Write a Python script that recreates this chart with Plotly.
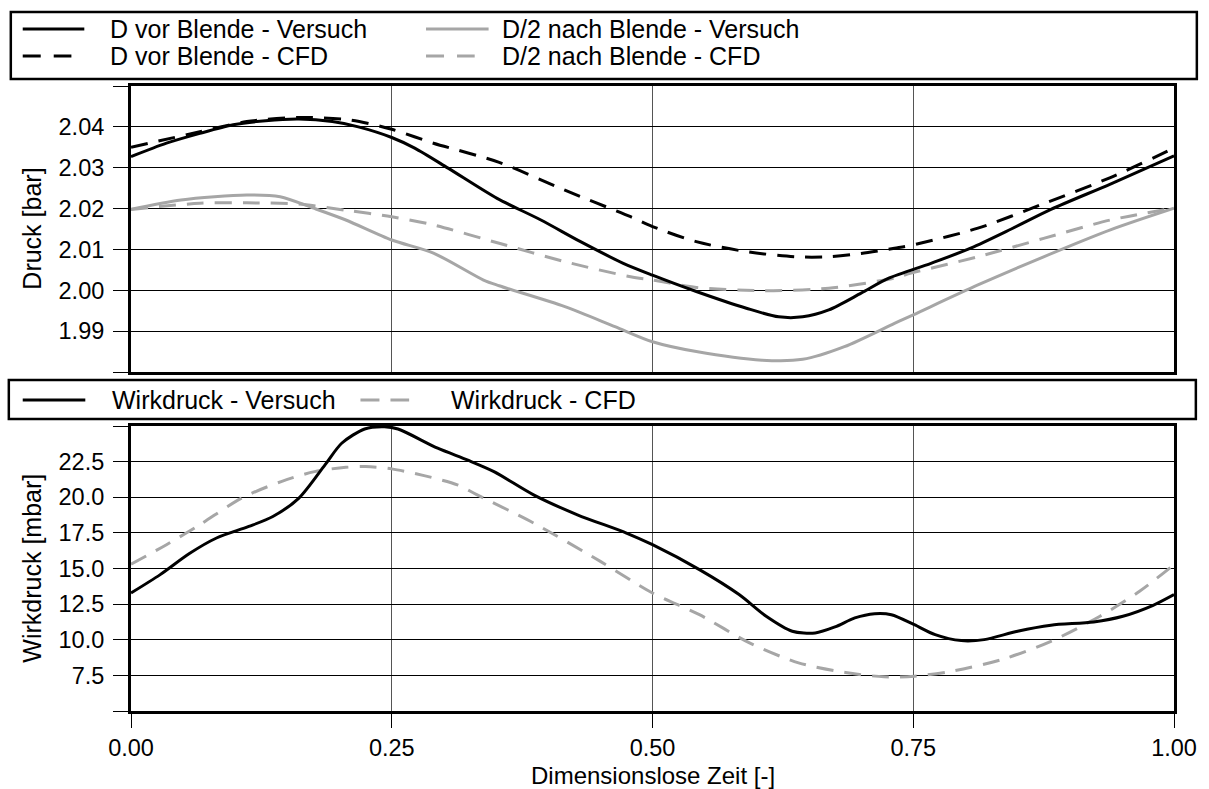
import plotly.graph_objects as go

# ---- data: pressure before / after the orifice (bar) ----
d_vor_versuch_x = [0, 0.034, 0.066, 0.098, 0.129, 0.161, 0.193, 0.218, 0.25, 0.272, 0.304, 0.351,
                   0.393, 0.431, 0.472, 0.50, 0.542, 0.59, 0.621, 0.644, 0.669, 0.70, 0.726, 0.767,
                   0.805, 0.844, 0.882, 0.939, 1.0]
d_vor_versuch_y = [2.0327, 2.0360, 2.0384, 2.0405, 2.0415, 2.0419, 2.0413, 2.0400, 2.0374, 2.0348,
                   2.0299, 2.0225, 2.0172, 2.0119, 2.0066, 2.0037, 1.9997, 1.9956, 1.9935, 1.9935,
                   1.9952, 1.9993, 2.0029, 2.0066, 2.0103, 2.0150, 2.0198, 2.0260, 2.0329]

d_vor_cfd_x = [0, 0.066, 0.111, 0.161, 0.21, 0.25, 0.29, 0.353, 0.416, 0.479, 0.50, 0.542, 0.589,
               0.637, 0.669, 0.70, 0.732, 0.748, 0.812, 0.875, 0.939, 1.0]
d_vor_cfd_y = [2.0350, 2.0388, 2.0413, 2.0423, 2.0417, 2.0394, 2.0360, 2.0313, 2.0245, 2.0180,
               2.0156, 2.0119, 2.0095, 2.0082, 2.0082, 2.0090, 2.0103, 2.0110, 2.0152, 2.0212,
               2.0276, 2.0348]

d2_nach_versuch_x = [0, 0.048, 0.111, 0.143, 0.175, 0.206, 0.25, 0.29, 0.338, 0.353, 0.416, 0.464,
                     0.50, 0.542, 0.605, 0.644, 0.684, 0.732, 0.75, 0.812, 0.875, 0.939, 1.0]
d2_nach_versuch_y = [2.0198, 2.0221, 2.0233, 2.0229, 2.0201, 2.0172, 2.0123, 2.0091, 2.0025, 2.0011,
                     1.9960, 1.9911, 1.9874, 1.9850, 1.9829, 1.9831, 1.9862, 1.9919, 1.9940, 2.0013,
                     2.0082, 2.0148, 2.0201]

d2_nach_cfd_x = [0, 0.066, 0.111, 0.161, 0.206, 0.25, 0.29, 0.353, 0.416, 0.479, 0.50, 0.542, 0.605,
                 0.669, 0.732, 0.748, 0.812, 0.875, 0.939, 1.0]
d2_nach_cfd_y = [2.0198, 2.0213, 2.0214, 2.0211, 2.0196, 2.0180, 2.0160, 2.0115, 2.0070, 2.0033,
                 2.0025, 2.0007, 1.9999, 2.0005, 2.0030, 2.0042, 2.0082, 2.0127, 2.0172, 2.0201]

# ---- data: differential pressure (mbar) ----
wirk_versuch_x = [0, 0.028, 0.056, 0.082, 0.113, 0.136, 0.161, 0.186, 0.202, 0.224, 0.243, 0.256,
                  0.294, 0.323, 0.348, 0.386, 0.428, 0.475, 0.50, 0.545, 0.583, 0.609, 0.634, 0.656,
                  0.675, 0.694, 0.713, 0.729, 0.751, 0.771, 0.796, 0.818, 0.85, 0.882, 0.923, 0.951,
                  0.98, 1.0]
wirk_versuch_y = [13.28, 14.57, 16.05, 17.14, 17.95, 18.65, 19.94, 22.27, 23.79, 24.79, 24.95, 24.79,
                  23.44, 22.6, 21.80, 20.17, 18.77, 17.49, 16.67, 14.92, 13.17, 11.65, 10.60, 10.48,
                  10.9, 11.53, 11.83, 11.76, 11.06, 10.36, 9.94, 10.01, 10.60, 11.02, 11.25, 11.65,
                  12.42, 13.17]

wirk_cfd_x = [0, 0.034, 0.066, 0.106, 0.144, 0.176, 0.206, 0.225, 0.25, 0.281, 0.313, 0.331, 0.386,
              0.45, 0.50, 0.545, 0.593, 0.64, 0.685, 0.722, 0.751, 0.787, 0.835, 0.882, 0.929, 0.967,
              1.0]
wirk_cfd_y = [15.3, 16.67, 18.07, 19.94, 21.1, 21.8, 22.1, 22.15, 21.99, 21.52, 20.87, 20.2, 18.19,
              15.5, 13.28, 11.76, 9.78, 8.38, 7.7, 7.4, 7.44, 7.79, 8.61, 9.89, 11.65, 13.4, 15.27]

x_ticks = [0, 0.25, 0.5, 0.75, 1.0]
x_tick_labels = ["0.00", "0.25", "0.50", "0.75", "1.00"]
druck_ticks = [1.98, 1.99, 2.00, 2.01, 2.02, 2.03, 2.04, 2.05]
druck_tick_labels = ["", "1.99", "2.00", "2.01", "2.02", "2.03", "2.04", ""]
wirk_ticks = [5, 7.5, 10, 12.5, 15, 17.5, 20, 22.5, 25]
wirk_tick_labels = ["", "7.5", "10.0", "12.5", "15.0", "17.5", "20.0", "22.5", ""]

names_top = ["D vor Blende - Versuch", "D vor Blende - CFD",
             "D/2 nach Blende - Versuch", "D/2 nach Blende - CFD"]
names_bottom = ["Wirkdruck - Versuch", "Wirkdruck - CFD"]

# ---- page geometry (pixels) ----
W, H = 1209, 789
ML, MR, MT, MB = 131, 28, 12, 78
PW = W - ML - MR
PH = H - MT - MB


def fx(px):
    return (px - ML) / PW


def fy(py):
    return (H - MB - py) / PH


BLACK = "#000000"
GREY = "#a6a6a6"
DASH = "17px,11px"
FAMILY = "Liberation Sans, Arial, sans-serif"
FONT = dict(family=FAMILY, size=25, color=BLACK)
TITLEFONT = dict(family=FAMILY, size=24, color=BLACK)
TICKFONT = dict(family=FAMILY, size=23.5, color=BLACK)
LW = 3

fig = go.Figure()


def add_line(x, y, color, dash, xa, ya):
    fig.add_trace(go.Scatter(
        x=x, y=y, mode="lines", xaxis=xa, yaxis=ya, showlegend=False, hoverinfo="skip",
        line=dict(color=color, width=LW, dash=dash, shape="spline", smoothing=0.8),
    ))


add_line(d2_nach_versuch_x, d2_nach_versuch_y, GREY, "solid", "x", "y")
add_line(d2_nach_cfd_x, d2_nach_cfd_y, GREY, DASH, "x", "y")
add_line(d_vor_versuch_x, d_vor_versuch_y, BLACK, "solid", "x", "y")
add_line(d_vor_cfd_x, d_vor_cfd_y, BLACK, DASH, "x", "y")
add_line(wirk_cfd_x, wirk_cfd_y, GREY, DASH, "x2", "y2")
add_line(wirk_versuch_x, wirk_versuch_y, BLACK, "solid", "x2", "y2")

frame = dict(showline=True, mirror=True, linewidth=3, linecolor=BLACK, zeroline=False,
             tickfont=TICKFONT)

fig.update_layout(
    width=W, height=H,
    margin=dict(l=ML, r=MR, t=MT, b=MB, pad=0),
    paper_bgcolor="white", plot_bgcolor="white",
    font=FONT,
    xaxis=dict(domain=[0, 1], anchor="y", range=[0, 1], tickvals=x_ticks,
               showticklabels=False, ticks="", showgrid=True, gridcolor="#555555", gridwidth=1,
               **frame),
    yaxis=dict(domain=[fy(372), fy(86)], anchor="x", range=[1.98, 2.05],
               tickvals=druck_ticks, ticktext=druck_tick_labels,
               ticks="outside", ticklen=15, tickwidth=1, tickcolor=BLACK, ticklabelstandoff=4,
               showgrid=True, gridcolor=BLACK, gridwidth=1, **frame),
    xaxis2=dict(domain=[0, 1], anchor="y2", range=[0, 1], tickvals=x_ticks,
                ticktext=x_tick_labels, ticks="outside", ticklen=14, tickwidth=1,
                tickcolor=BLACK, showgrid=True, gridcolor="#555555", gridwidth=1, **frame),
    yaxis2=dict(domain=[0, fy(426)], anchor="x2", range=[5, 25],
                tickvals=wirk_ticks, ticktext=wirk_tick_labels,
                ticks="outside", ticklen=15, tickwidth=1, tickcolor=BLACK, ticklabelstandoff=4,
                showgrid=True, gridcolor=BLACK, gridwidth=1, **frame),
)

shapes = []
annotations = []


def box(x0, y0, x1, y1):
    shapes.append(dict(type="rect", xref="paper", yref="paper",
                       x0=fx(x0), x1=fx(x1), y0=fy(y1), y1=fy(y0),
                       line=dict(color=BLACK, width=2.5), fillcolor="white", layer="above"))


def sample(x0, x1, py, color, dash):
    shapes.append(dict(type="line", xref="paper", yref="paper",
                       x0=fx(x0), x1=fx(x1), y0=fy(py), y1=fy(py),
                       line=dict(color=color, width=LW, dash=dash), layer="above"))


def label(px, py, text):
    annotations.append(dict(xref="paper", yref="paper", x=fx(px), y=fy(py), text=text,
                            showarrow=False, xanchor="left", yanchor="middle", font=FONT))


# legend of the pressure panel
box(10, 12, 1204, 79)
sample(22, 84, 29, BLACK, "solid")
label(108, 29, names_top[0])
sample(22, 71, 56, BLACK, "18px,13px")
label(108, 56, names_top[1])
sample(428, 491, 29, GREY, "solid")
label(502, 29, names_top[2])
sample(428, 477, 56, GREY, "18px,13px")
label(502, 56, names_top[3])

# legend of the differential pressure panel
box(8, 380, 1203, 419)
sample(22, 85, 400, BLACK, "solid")
label(110, 400, names_bottom[0])
sample(362, 411, 400, GREY, "19px,11px")
label(451, 400, names_bottom[1])

# axis titles
annotations.append(dict(xref="paper", yref="paper", x=fx(31), y=fy(229), text="Druck [bar]",
                        textangle=-90, showarrow=False, xanchor="center", yanchor="middle",
                        font=FONT))
annotations.append(dict(xref="paper", yref="paper", x=fx(31), y=fy(568), text="Wirkdruck [mbar]",
                        textangle=-90, showarrow=False, xanchor="center", yanchor="middle",
                        font=FONT))
annotations.append(dict(xref="paper", yref="paper", x=fx(656), y=fy(775),
                        text="Dimensionslose Zeit [-]", showarrow=False, borderpad=0,
                        xanchor="center", yanchor="middle", font=TITLEFONT))

fig.update_layout(shapes=shapes, annotations=annotations)

fig.write_html("out.html")
